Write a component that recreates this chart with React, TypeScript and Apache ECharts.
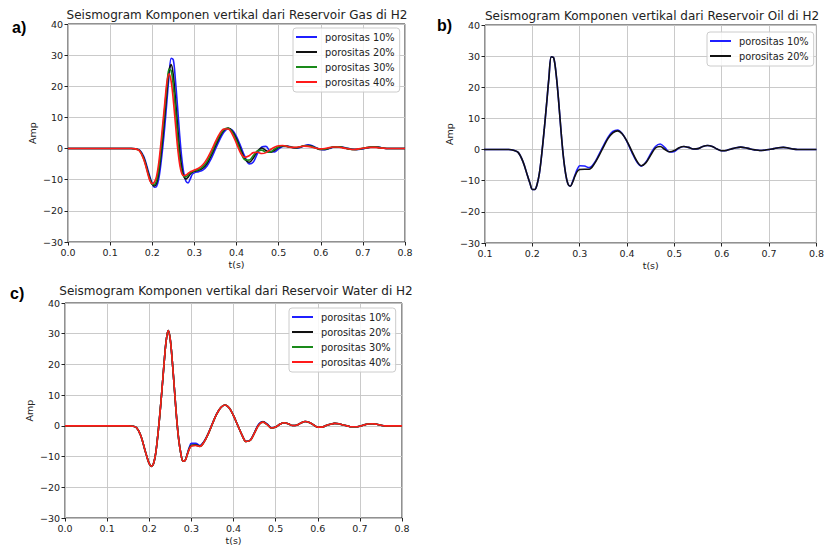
import React, { useEffect, useRef } from 'react';
import * as echarts from 'echarts';

// time samples (s)
const TIME = [
  0, 0.15, 0.16, 0.17, 0.18, 0.19, 0.195,
  0.2, 0.205, 0.21, 0.215, 0.22, 0.225, 0.23, 0.235, 0.24, 0.245,
  0.25, 0.255, 0.26, 0.265, 0.27, 0.275, 0.28, 0.285, 0.29, 0.295, 0.3,
  0.31, 0.32, 0.33, 0.34, 0.35, 0.36, 0.37, 0.38, 0.39, 0.4,
  0.41, 0.42, 0.43, 0.44, 0.45, 0.46, 0.47, 0.48, 0.49, 0.5,
  0.51, 0.52, 0.53, 0.54, 0.55, 0.56, 0.57, 0.58, 0.59, 0.6,
  0.61, 0.62, 0.63, 0.64, 0.65, 0.66, 0.67, 0.68, 0.69, 0.7,
  0.71, 0.72, 0.73, 0.74, 0.75, 0.76, 0.8,
];

// a) Gas
const GAS_10 = [
  0, 0, -0.1, -0.5, -2.6, -7, -9.3,
  -11.3, -12.4, -12.2, -10, -5.5, 0.5, 7.5, 15.5, 23.5, 29,
  28.5, 22, 13.5, 4.5, -3, -8, -10.5, -11, -9.8, -8.3, -7.8,
  -7.4, -6.9, -5.6, -3.2, -0.2, 2.8, 5.2, 6.4, 5.9, 3.8,
  0.7, -2.6, -4.9, -4.3, -1.5, 0.5, 0.7, -0.9, -1.1, -0.1,
  0.7, 0.8, 0.5, 0.2, 0.3, 0.8, 1.2, 0.9, 0.2, -0.3,
  -0.4, 0, 0.4, 0.6, 0.5, 0.2, -0.1, -0.3, -0.3, -0.1,
  0.2, 0.5, 0.6, 0.4, 0.1, 0, 0,
];
const GAS_20 = [
  0, 0, -0.1, -0.6, -3, -7.6, -9.8,
  -11.5, -12, -11.2, -8.2, -3, 3.5, 11, 18.5, 25, 27,
  23.5, 16, 7.5, -0.5, -6, -9, -9.8, -9.2, -8.2, -7.6, -7.3,
  -7, -6.3, -4.8, -2.2, 0.8, 3.7, 5.8, 6.6, 5.6, 3.1,
  -0.2, -3.3, -4.4, -3, -0.8, 0.2, -0.6, -1.2, -0.6, 0.4,
  0.8, 0.7, 0.4, 0.2, 0.4, 0.9, 1.0, 0.7, 0.1, -0.3,
  -0.3, 0.1, 0.5, 0.6, 0.4, 0.1, -0.2, -0.3, -0.2, 0,
  0.3, 0.5, 0.5, 0.3, 0.1, 0, 0,
];
const GAS_30 = [
  0, 0, -0.1, -0.7, -3.3, -8, -10.2,
  -11.5, -11.5, -10.3, -6.8, -1, 6, 13.5, 20.5, 25.5, 25,
  20, 12.5, 4, -3.5, -7.5, -9, -9.1, -8.5, -7.8, -7.4, -7.1,
  -6.7, -5.8, -4.1, -1.5, 1.5, 4.3, 6.1, 6.5, 5.2, 2.4,
  -1, -3.6, -3.7, -2.2, -0.7, -0.5, -1.2, -1.1, -0.2, 0.6,
  0.9, 0.7, 0.4, 0.3, 0.5, 0.9, 0.9, 0.6, 0.1, -0.2,
  -0.2, 0.2, 0.5, 0.6, 0.4, 0.1, -0.2, -0.3, -0.2, 0.1,
  0.3, 0.5, 0.5, 0.3, 0.1, 0, 0,
];
const GAS_40 = [
  0, 0, -0.1, -0.8, -3.6, -8.4, -10.5,
  -11.3, -10.8, -9, -5, 1, 8, 15, 21.5, 24, 21.5,
  15.5, 8, 0.5, -5, -8, -8.7, -8.5, -8, -7.5, -7.2, -6.9,
  -6.3, -5.2, -3.3, -0.7, 2.2, 4.8, 6.3, 6.3, 4.6, 1.6,
  -1.5, -2.8, -2.3, -1.3, -1.2, -1.6, -1.3, -0.4, 0.4, 0.9,
  1.0, 0.7, 0.4, 0.4, 0.6, 0.8, 0.7, 0.4, 0.1, -0.1,
  0, 0.3, 0.5, 0.5, 0.3, 0, -0.2, -0.3, -0.1, 0.1,
  0.3, 0.4, 0.4, 0.2, 0.1, 0, 0,
];

// b) Oil
const OIL_10 = [
  0, 0, -0.2, -0.9, -3.8, -8.5, -10.8,
  -12.8, -12.8, -11.2, -7.5, -1.2, 6.3, 14.5, 23, 29.8, 29.5,
  24.5, 16.5, 7, -1.5, -7.5, -11, -11.8, -10.3, -8.2, -6.3, -5.2,
  -5.3, -5.8, -4.5, -1.8, 1.2, 4.0, 5.8, 6.3, 5.1, 2.5,
  -0.8, -3.8, -5.3, -4.0, -1.3, 1.0, 1.8, 0.6, -0.8, -0.6,
  0.5, 1.0, 0.7, 0.2, 0.3, 1.0, 1.3, 1.0, 0.2, -0.4,
  -0.3, 0.2, 0.6, 0.8, 0.6, 0.2, -0.1, -0.3, -0.2, 0,
  0.3, 0.6, 0.7, 0.5, 0.2, 0, 0,
];
const OIL_20 = [
  0, 0, -0.2, -0.9, -3.8, -8.5, -10.8,
  -12.8, -12.8, -11.2, -7.5, -1.2, 6.3, 14.5, 23, 29.8, 29.5,
  24.5, 16.5, 7, -1.5, -7.5, -11, -11.8, -10.5, -8.5, -7, -6.4,
  -6.3, -6.3, -4.8, -2.2, 0.8, 3.6, 5.4, 6.0, 5.0, 2.6,
  -0.5, -3.5, -5.2, -4.2, -1.8, 0.5, 1.0, 0, -0.7, -0.3,
  0.6, 1.0, 0.7, 0.2, 0.3, 1.0, 1.3, 1.0, 0.2, -0.4,
  -0.3, 0.2, 0.6, 0.8, 0.6, 0.2, -0.1, -0.3, -0.2, 0,
  0.3, 0.6, 0.7, 0.5, 0.2, 0, 0,
];

// c) Water
const WATER_10 = [
  0, 0, -0.1, -0.6, -3.2, -8, -10.3,
  -12.3, -13.2, -12.3, -9.2, -3.5, 3.5, 11.5, 20, 27.5, 31,
  28, 20.5, 11.5, 2.5, -4.5, -9, -11.5, -11.3, -9.2, -7, -5.7,
  -5.7, -6.4, -5.1, -2.5, 0.8, 3.9, 6.0, 6.8, 5.8, 3.3,
  0.2, -2.9, -5.0, -4.6, -2.1, 0.6, 1.4, 0.6, -0.6, -0.4,
  0.5, 1.0, 0.7, 0.1, 0.2, 0.9, 1.4, 1.1, 0.3, -0.4,
  -0.4, 0.1, 0.5, 0.8, 0.7, 0.3, 0, -0.3, -0.3, -0.1,
  0.3, 0.6, 0.7, 0.5, 0.2, 0, 0,
];
const WATER_20 = [
  0, 0, -0.1, -0.6, -3.2, -8, -10.3,
  -12.3, -13.2, -12.3, -9.2, -3.5, 3.5, 11.5, 20, 27.5, 31,
  28, 20.5, 11.5, 2.5, -4.5, -9, -11.5, -11.3, -9.4, -7.4, -6.3,
  -6.2, -6.6, -5.2, -2.6, 0.7, 3.8, 6.0, 6.8, 5.8, 3.3,
  0.2, -2.9, -5.1, -4.7, -2.2, 0.4, 1.3, 0.5, -0.7, -0.4,
  0.5, 1.0, 0.7, 0.1, 0.2, 0.9, 1.4, 1.1, 0.3, -0.4,
  -0.4, 0.1, 0.5, 0.8, 0.7, 0.3, 0, -0.3, -0.3, -0.1,
  0.3, 0.6, 0.7, 0.5, 0.2, 0, 0,
];
const WATER_30 = [
  0, 0, -0.1, -0.6, -3.2, -8, -10.3,
  -12.3, -13.2, -12.3, -9.2, -3.5, 3.5, 11.5, 20, 27.5, 31,
  28, 20.5, 11.5, 2.5, -4.5, -9, -11.5, -11.3, -9.5, -7.5, -6.5,
  -6.3, -6.7, -5.3, -2.6, 0.7, 3.8, 6.0, 6.8, 5.8, 3.3,
  0.2, -2.9, -5.1, -4.7, -2.3, 0.3, 1.2, 0.4, -0.7, -0.4,
  0.5, 1.0, 0.7, 0.1, 0.2, 0.9, 1.4, 1.1, 0.3, -0.4,
  -0.4, 0.1, 0.5, 0.8, 0.7, 0.3, 0, -0.3, -0.3, -0.1,
  0.3, 0.6, 0.7, 0.5, 0.2, 0, 0,
];
const WATER_40 = [
  0, 0, -0.1, -0.6, -3.2, -8, -10.3,
  -12.3, -13.2, -12.3, -9.2, -3.5, 3.5, 11.5, 20, 27.5, 31,
  28, 20.5, 11.5, 2.5, -4.5, -9, -11.5, -11.3, -9.5, -7.6, -6.6,
  -6.4, -6.7, -5.3, -2.6, 0.7, 3.8, 6.0, 6.8, 5.8, 3.3,
  0.2, -2.9, -5.1, -4.7, -2.3, 0.3, 1.2, 0.4, -0.7, -0.4,
  0.5, 1.0, 0.7, 0.1, 0.2, 0.9, 1.4, 1.1, 0.3, -0.4,
  -0.4, 0.1, 0.5, 0.8, 0.7, 0.3, 0, -0.3, -0.3, -0.1,
  0.3, 0.6, 0.7, 0.5, 0.2, 0, 0,
];

const NAMES = ['porositas 10%', 'porositas 20%', 'porositas 30%', 'porositas 40%'];
const COLORS = ['#1f1fff', '#111111', '#1a8a1a', '#ff1a1a'];
const TITLES = [
  'Seismogram Komponen vertikal dari Reservoir Gas di H2',
  'Seismogram Komponen vertikal dari Reservoir Oil di H2',
  'Seismogram Komponen vertikal dari Reservoir Water di H2',
];
const PANEL_LABELS = ['a)', 'b)', 'c)'];
const X_MIN = [0, 0.1, 0];
const X_MAX = 0.8;
const Y_MIN = -30;
const Y_MAX = 40;
const X_LABEL = 't(s)';
const Y_LABEL = 'Amp';

const PANEL_SERIES = [
  [GAS_10, GAS_20, GAS_30, GAS_40],
  [OIL_10, OIL_20],
  [WATER_10, WATER_20, WATER_30, WATER_40],
];

const FONT = 'DejaVu Sans';
const TXT = '#222';

export default function App() {
  const ref = useRef<HTMLDivElement>(null);
  useEffect(() => {
    if (!ref.current) return;
    const chart = echarts.init(ref.current, undefined, { renderer: 'svg' });
    const gridPos = [
      { left: 68, top: 24, width: 337, height: 218 },
      { left: 485, top: 25, width: 335, height: 218 },
      { left: 65, top: 303, width: 337, height: 215 },
    ];
    const legendPos = [
      { left: 293, top: 28 },
      { left: 707, top: 32 },
      { left: 289, top: 308 },
    ];
    const titlePos = [
      { x: 237, y: 15 },
      { x: 652, y: 16 },
      { x: 236, y: 291 },
    ];
    const labelPos = [
      { x: 12, y: 27 },
      { x: 437, y: 25 },
      { x: 10, y: 293 },
    ];

    const grid = gridPos.map((g) => ({
      ...g,
      show: true,
      borderColor: '#222',
      borderWidth: 1,
      backgroundColor: '#fff',
      containLabel: false,
    }));

    const xAxis = gridPos.map((_, i) => ({
      type: 'value',
      gridIndex: i,
      min: X_MIN[i],
      max: X_MAX,
      interval: 0.1,
      name: X_LABEL,
      nameLocation: 'middle',
      nameGap: 17,
      nameTextStyle: { fontSize: 9.5, color: TXT, fontFamily: FONT },
      axisLine: { show: false, onZero: false },
      axisTick: { show: true, length: 3.5, lineStyle: { color: '#222', width: 1 } },
      axisLabel: {
        fontSize: 9.5,
        color: TXT,
        fontFamily: FONT,
        margin: 5,
        formatter: (v: number) => v.toFixed(1),
      },
      splitLine: { show: true, lineStyle: { color: '#c4c4c4', width: 0.9 } },
    }));

    const yAxis = gridPos.map((_, i) => ({
      type: 'value',
      gridIndex: i,
      min: Y_MIN,
      max: Y_MAX,
      interval: 10,
      name: Y_LABEL,
      nameLocation: 'middle',
      nameGap: 31,
      nameTextStyle: { fontSize: 9.5, color: TXT, fontFamily: FONT },
      axisLine: { show: false, onZero: false },
      axisTick: { show: true, length: 3.5, lineStyle: { color: '#222', width: 1 } },
      axisLabel: {
        fontSize: 9.5,
        color: TXT,
        fontFamily: FONT,
        margin: 5,
        formatter: (v: number) => String(v).replace('-', '\u2212'),
      },
      splitLine: { show: true, lineStyle: { color: '#c4c4c4', width: 0.9 } },
    }));

    const series: any[] = [];
    PANEL_SERIES.forEach((arrs, p) => {
      arrs.forEach((arr, k) => {
        series.push({
          type: 'line',
          name: NAMES[k],
          xAxisIndex: p,
          yAxisIndex: p,
          data: TIME.map((t, i) => [t, arr[i]]),
          showSymbol: false,
          smooth: 0.35,
          clip: true,
          lineStyle: { width: 1.6, color: COLORS[k] },
          itemStyle: { color: COLORS[k] },
          emphasis: { disabled: true },
          z: 2 + k,
        });
      });
    });

    const legend = PANEL_SERIES.map((arrs, p) => ({
      orient: 'vertical',
      left: legendPos[p].left,
      top: legendPos[p].top,
      data: NAMES.slice(0, arrs.length),
      icon: 'rect',
      itemWidth: 21,
      itemHeight: 2,
      itemGap: 3,
      padding: [3, 5, 4, 3],
      backgroundColor: 'rgba(255,255,255,0.85)',
      borderColor: '#cccccc',
      borderWidth: 1,
      borderRadius: 3,
      selectedMode: false,
      textStyle: { fontSize: 9.8, color: TXT, fontFamily: FONT, lineHeight: 12, padding: [0, 0, 0, 3] },
    }));

    const graphic: any[] = [];
    TITLES.forEach((t, i) => {
      graphic.push({
        type: 'text',
        x: titlePos[i].x,
        y: titlePos[i].y,
        style: {
          text: t,
          fill: TXT,
          fontSize: 12,
          fontFamily: FONT,
          align: 'center',
          verticalAlign: 'middle',
        },
      });
    });
    PANEL_LABELS.forEach((t, i) => {
      graphic.push({
        type: 'text',
        x: labelPos[i].x,
        y: labelPos[i].y,
        style: {
          text: t,
          fill: '#000',
          fontSize: 16,
          fontWeight: 'bold',
          fontFamily: 'Liberation Sans',
          align: 'left',
          verticalAlign: 'middle',
        },
      });
    });

    chart.setOption({
      animation: false,
      backgroundColor: '#fff',
      grid,
      xAxis,
      yAxis,
      legend,
      series,
      graphic,
    } as any);
    return () => chart.dispose();
  }, []);
  return (
    <div
      ref={ref}
      style={{ position: 'absolute', left: 0, top: 0, width: 827, height: 550 }}
    />
  );
}
